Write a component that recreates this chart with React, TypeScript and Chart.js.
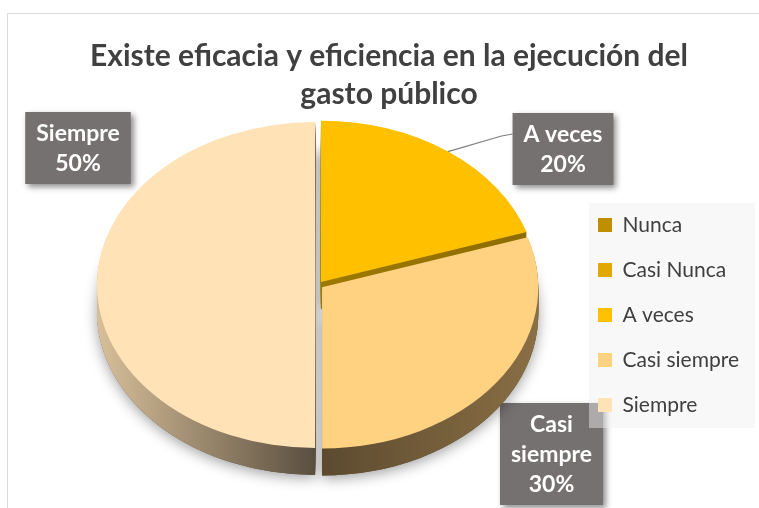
import React, { useEffect, useRef } from 'react';
import { Chart, registerables } from 'chart.js';

Chart.register(...registerables);

// ---- data ----
const TITLE_LINES = ['Existe eficacia y eficiencia en la ejecución del', 'gasto público'];
const CATEGORIES = ['Nunca', 'Casi Nunca', 'A veces', 'Casi siempre', 'Siempre'];
const VALUES = [0, 0, 20, 30, 50];

// ---- style ----
const COLORS = ['#BF8F00', '#E0A800', '#FFC000', '#FFD282', '#FFE2B6'];
const SIDE_STOPS: [string, string, string][] = [
  ['#8F6B00', '#8F6B00', '#8F6B00'],
  ['#A87E00', '#A87E00', '#A87E00'],
  ['#9C7A00', '#9C7A00', '#8C6C00'],
  ['#5C4A2F', '#5C4A2F', '#8A6F45'],
  ['#D6BE98', '#5A4E3F', '#5A4E3F'],
];
const OFFSETS = [0, 0, 20, 20, 10];
const LABEL_POS: [number, number][] = [[0, 0], [0, 0], [245, -136], [233.5, 169], [-240, -137]];
const LEADER = [false, false, true, false, false];
const TILT = 0.746;
const DEPTH = 27;
const FONT = 'Lato';
const LABEL_FONT = 23;
const LABEL_LINE = 30;
const LABEL_PAD_X = 11;
const LABEL_PAD_Y = 6;
const LABEL_WRAP = 105;

const CW = 790;
const CH = 550;

function centerOf(chart: any) {
  const arcs = chart.getDatasetMeta(0).data as any[];
  const a = arcs.find((x) => x.circumference > 0) || arcs[0];
  return { arcs, cx: a.x, cy: a.y, r: a.outerRadius };
}

function wrap(ctx: CanvasRenderingContext2D, text: string): string[] {
  if (ctx.measureText(text).width <= LABEL_WRAP) return [text];
  const words = text.split(' ');
  const out: string[] = [];
  let cur = '';
  words.forEach((w) => {
    const t = cur ? cur + ' ' + w : w;
    if (cur && ctx.measureText(t).width > LABEL_WRAP) {
      out.push(cur);
      cur = w;
    } else cur = t;
  });
  if (cur) out.push(cur);
  return out;
}

const pie3d = {
  id: 'pie3d',
  beforeDraw(chart: any) {
    const ctx: CanvasRenderingContext2D = chart.ctx;
    const { arcs, cx, cy } = centerOf(chart);
    const total = VALUES.reduce((a, b) => a + b, 0);
    // data labels
    ctx.save();
    ctx.font = `bold ${LABEL_FONT}px ${FONT}`;
    VALUES.forEach((v, i) => {
      if (!v) return;
      const arc = arcs[i];
      const lines = [...wrap(ctx, CATEGORIES[i]), `${Math.round((v / total) * 100)}%`];
      const w = Math.max(...lines.map((l) => ctx.measureText(l).width)) + 2 * LABEL_PAD_X;
      const h = lines.length * LABEL_LINE + 2 * LABEL_PAD_Y;
      const bx = cx + LABEL_POS[i][0] - w / 2;
      const by = cy + LABEL_POS[i][1] - h / 2;
      if (LEADER[i]) {
        const mid = (arc.startAngle + arc.endAngle) / 2;
        const rr = OFFSETS[i] / 4 + arc.outerRadius;
        const ex = cx + Math.cos(mid) * rr;
        const ey = cy + Math.sin(mid) * rr * TILT;
        const ly = by + 21;
        ctx.strokeStyle = '#7F7F7F';
        ctx.lineWidth = 1.2;
        ctx.beginPath();
        ctx.moveTo(ex, ey);
        ctx.lineTo(bx - 11, ly + 2);
        ctx.lineTo(bx, ly);
        ctx.stroke();
      }
      ctx.save();
      ctx.shadowColor = 'rgba(0,0,0,0.45)';
      ctx.shadowBlur = 6;
      ctx.shadowOffsetX = 3;
      ctx.shadowOffsetY = 3;
      ctx.fillStyle = '#767171';
      ctx.fillRect(bx, by, w, h);
      ctx.restore();
      ctx.fillStyle = '#FFFFFF';
      ctx.textAlign = 'center';
      ctx.textBaseline = 'middle';
      lines.forEach((l, j) => ctx.fillText(l, bx + w / 2, by + LABEL_PAD_Y + LABEL_LINE * (j + 0.5) + 1));
    });
    ctx.restore();
    // legend background
    ctx.save();
    ctx.fillStyle = 'rgba(240,240,240,0.45)';
    ctx.fillRect(581, 189, 166, 225);
    ctx.restore();
    const lg = chart.legend;
    if (lg) {
      lg.left = 566;
      lg.top = 176.5;
      lg.right = 766;
      lg.bottom = 540;
      lg.width = 200;
      lg.height = 363.5;
    }
  },
  beforeDatasetsDraw(chart: any) {
    const ctx: CanvasRenderingContext2D = chart.ctx;
    const { arcs, cx, cy, r } = centerOf(chart);
    ctx.save();
    ctx.translate(cx, cy);
    ctx.scale(1, TILT);
    ctx.translate(-cx, -cy);
    const drawCopy = (arc: any, dy: number, fill: any) => {
      const saved = arc.options;
      arc.options = { ...saved, backgroundColor: fill, borderWidth: 0 };
      ctx.save();
      ctx.translate(0, dy);
      arc.draw(ctx);
      ctx.restore();
      arc.options = saved;
    };
    const fills = SIDE_STOPS.map((s) => {
      const g = ctx.createLinearGradient(cx - r, 0, cx + r, 0);
      g.addColorStop(0, s[0]);
      g.addColorStop(0.5, s[1]);
      g.addColorStop(1, s[2]);
      return g;
    });
    ctx.save();
    ctx.shadowColor = 'rgba(0,0,0,0.38)';
    ctx.shadowBlur = 14;
    ctx.shadowOffsetY = 3;
    arcs.forEach((arc: any, i: number) => {
      if (arc.circumference > 0) drawCopy(arc, DEPTH / TILT, SIDE_STOPS[i][1]);
    });
    ctx.restore();
    for (let k = DEPTH; k >= 1; k--) {
      arcs.forEach((arc: any, i: number) => {
        if (arc.circumference > 0) drawCopy(arc, k / TILT, fills[i]);
      });
    }
  },
  afterDatasetsDraw(chart: any) {
    chart.ctx.restore();
  },
};

export default function App() {
  const ref = useRef<HTMLCanvasElement>(null);
  useEffect(() => {
    const canvas = ref.current!;
    const chart = new Chart(canvas, {
      type: 'pie',
      data: {
        labels: CATEGORIES,
        datasets: [
          {
            data: VALUES,
            backgroundColor: COLORS,
            borderWidth: 0,
            offset: OFFSETS,
            clip: false as any,
          } as any,
        ],
      },
      options: {
        responsive: false,
        animation: false,
        radius: 216,
        layout: { padding: { left: 20, right: 48, top: 0, bottom: 107 } },
        plugins: {
          tooltip: { enabled: false },
          title: {
            display: true,
            text: TITLE_LINES,
            color: '#404040',
            font: { family: FONT, size: 30, weight: 'bold', lineHeight: '38px' as any },
            padding: { top: 23, bottom: 0 },
          },
          legend: {
            display: true,
            position: 'right',
            align: 'start',
            maxWidth: 142,
            labels: {
              color: '#404040',
              font: { family: FONT, size: 21 },
              boxWidth: 14,
              boxHeight: 14,
              padding: 24,
            },
          },
        },
      } as any,
      plugins: [pie3d],
    });
    return () => chart.destroy();
  }, []);
  return (
    <div style={{ position: 'fixed', left: 0, top: 0, width: 759, height: 508, overflow: 'hidden', background: '#FFFFFF' }}>
      <div style={{ position: 'absolute', left: 7, top: 13, width: CW, height: CH, border: '1px solid #D9D9D9' }}>
        <canvas ref={ref} width={CW} height={CH} style={{ display: 'block', width: CW, height: CH }} />
      </div>
    </div>
  );
}
